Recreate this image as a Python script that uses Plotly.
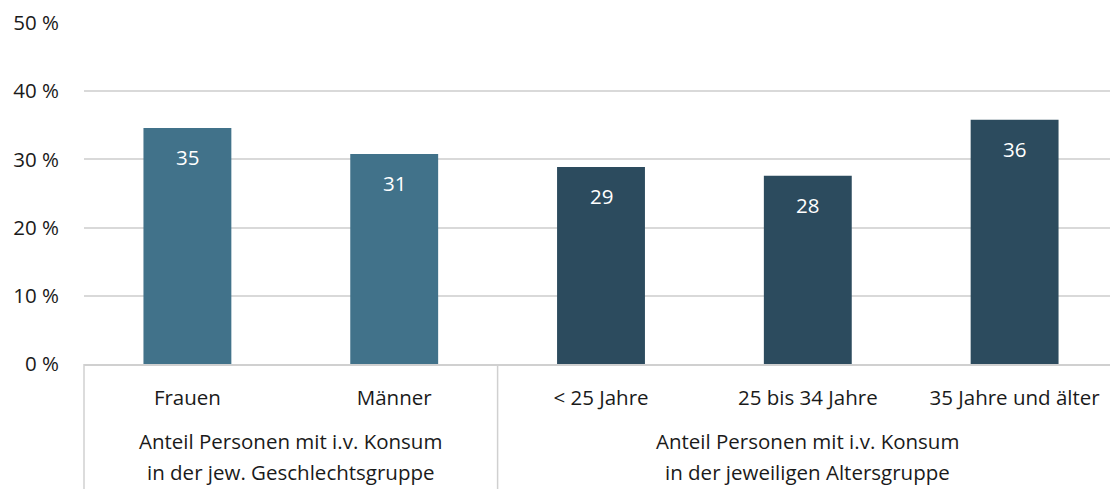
import plotly.graph_objects as go

categories = ["Frauen", "Männer", "< 25 Jahre", "25 bis 34 Jahre", "35 Jahre und älter"]
values = [34.6, 30.8, 28.9, 27.6, 35.8]
labels = ["35", "31", "29", "28", "36"]
bar_colors = ["#41728A", "#41728A", "#2C4B5E", "#2C4B5E", "#2C4B5E"]
group_labels = [["Anteil Personen mit i.v. Konsum", "in der jew. Geschlechtsgruppe"],
                ["Anteil Personen mit i.v. Konsum", "in der jeweiligen Altersgruppe"]]
group_sizes = [2, 3]
y_ticks = [0, 10, 20, 30, 40, 50]
y_ticktext = [f"{v} %" for v in y_ticks]

FONT = "Open Sans"
TXT = "#1a1a1a"
FS = 20.5
W, H = 1118, 489   # plot area runs slightly past the 1110px window, as in the reference
ml, mr, mt, mb = 84, 0, 23, 125
ph = H - mt - mb

fig = go.Figure()
fig.add_trace(go.Bar(
    x=categories, y=values, marker=dict(color=bar_colors, line=dict(width=0)),
    hoverinfo="skip", showlegend=False,
))

# data labels inside bar ends
for c, v, t in zip(categories, values, labels):
    fig.add_annotation(x=c, y=v, text=t, showarrow=False, yshift=-29,
                       font=dict(family=FONT, size=FS, color="white"))

n = len(categories)
shapes = []
pos = 0
bounds = [0]
for s in group_sizes:
    pos += s
    bounds.append(pos)
y_bottom = -mb / ph
for b in bounds[:-1]:
    shapes.append(dict(type="line", xref="paper", yref="paper",
                       x0=b / n, x1=b / n, y0=0, y1=y_bottom,
                       line=dict(color="#d0d0d0", width=1.5)))
line_offsets = [77, 108]  # px below the axis for the two lines of group labels
for i, g in enumerate(group_labels):
    cx = (bounds[i] + bounds[i + 1]) / 2 / n
    for line, off in zip(g, line_offsets):
        fig.add_annotation(x=cx, y=-off / ph, xref="paper", yref="paper",
                           xanchor="center", yanchor="middle",
                           text=line, showarrow=False,
                           font=dict(family=FONT, size=FS, color=TXT))

fig.update_layout(
    width=W, height=H, margin=dict(l=ml, r=mr, t=mt, b=mb, autoexpand=False),
    plot_bgcolor="white", paper_bgcolor="white",
    bargap=0.575, shapes=shapes,
    font=dict(family=FONT, size=FS, color=TXT),
    xaxis=dict(range=[-0.5, n - 0.5], showline=True, linecolor="#d0d0d0", linewidth=1.5,
               ticks="", ticklabelstandoff=15, automargin=False,
               tickfont=dict(family=FONT, size=FS, color=TXT), fixedrange=True),
    yaxis=dict(range=[0, 50], tickvals=y_ticks, ticktext=y_ticktext, showgrid=True,
               gridcolor="#d9d9d9", gridwidth=1.5, zeroline=False, ticks="",
               ticklabelstandoff=24, automargin=False,
               tickfont=dict(family=FONT, size=FS, color=TXT), fixedrange=True),
)

fig.write_html("out.html", config={"displayModeBar": False},
               post_script="document.body.style.margin='0';document.body.style.overflow='hidden';")
